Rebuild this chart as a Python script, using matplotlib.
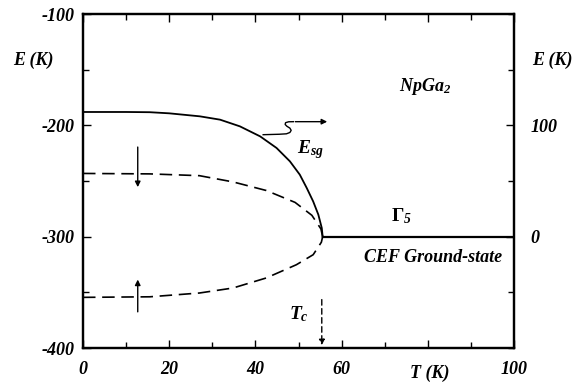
import matplotlib
matplotlib.use("Agg")
import matplotlib.pyplot as plt
from matplotlib.ticker import MultipleLocator

# values (E relative to the CEF ground state, right axis)
t_esg = [0, 10, 15.5, 20, 27.1, 31.8, 36.4, 41.1, 44.9, 48.0, 50.3, 51.9, 53.4, 54.6, 55.4, 55.6]
e_esg = [112, 112, 111.8, 110.8, 108.1, 105.1, 99.1, 90.1, 79.7, 67.7, 55.7, 43.8, 31.7, 19.8, 7.8, 0]

t_upper = [0, 15.5, 27, 34.8, 42.5, 49.2, 53.1, 55.2, 55.6]
e_upper = [56.8, 56.4, 54.8, 49.2, 41.5, 30.8, 19.2, 7, 0]
t_lower = [0, 15.5, 27, 34.8, 42.5, 49.5, 53.4, 55.3, 55.6]
e_lower = [-54.5, -54, -50.6, -46.1, -37.1, -25.2, -16.2, -5, 0]

t_ground = [55.6, 100]
e_ground = [0, 0]

x_ticks = [0, 20, 40, 60, 80, 100]
x_labels = ["0", "20", "40", "60", "", "100"]
left_ticks = [-400, -300, -200, -100]
right_ticks = [0, 100]

plt.rcParams["font.family"] = ["Liberation Serif", "DejaVu Serif"]
plt.rcParams["mathtext.fontset"] = "custom"
plt.rcParams["mathtext.rm"] = "Liberation Serif:bold:italic"
plt.rcParams["mathtext.it"] = "Liberation Serif:bold:italic"
plt.rcParams["mathtext.bf"] = "Liberation Serif:bold"

fnt = dict(fontsize=13, fontweight="bold", fontstyle="italic")

fig = plt.figure(figsize=(5.78, 3.86), dpi=100)
ax = fig.add_axes([0.1436, 0.0984, 0.7457, 0.8653])
ax2 = ax.twinx()

ax.set_xlim(0, 100)
ax.set_ylim(-400, -100)
ax2.set_ylim(-100, 200)

# curves drawn on the right (relative) axis
ax2.plot(t_esg, e_esg, color="black", lw=1.3, solid_joinstyle="round")
ax2.plot(t_ground, e_ground, color="black", lw=1.6)
ax2.plot(t_upper, e_upper, color="black", lw=1.2, dashes=(7.5, 4))
ax2.plot(t_lower, e_lower, color="black", lw=1.2, dashes=(7.5, 4))

arr = dict(arrowstyle="-|>", color="black", lw=1.0, mutation_scale=8)
ax2.annotate("", xy=(12.7, 42), xytext=(12.7, 83), arrowprops=arr)
ax2.annotate("", xy=(12.7, -36), xytext=(12.7, -70), arrowprops=arr)
ax2.annotate("", xy=(55.4, -100), xytext=(55.4, -54),
             arrowprops=dict(arrowstyle="-|>", color="black", lw=1.0,
                             mutation_scale=8, linestyle=(0, (4, 2.5))))

# squiggle arrow pointing to the right axis
sq_t = [41.8, 45.5, 47.2, 48.0, 48.3, 48.0, 47.3, 46.9, 47.0, 47.7, 48.8]
sq_e = [91.6, 92.0, 92.4, 93.6, 95.5, 97.5, 99.2, 100.8, 102.4, 103.2, 103.3]
ax2.plot(sq_t, sq_e, color="black", lw=1.0, solid_joinstyle="round")
ax2.annotate("", xy=(57.3, 103.3), xytext=(48.6, 103.3), arrowprops=arr)

ax.set_xticks(x_ticks)
ax.set_xticklabels(x_labels)
ax.set_yticks(left_ticks)
ax.set_yticklabels([str(v) for v in left_ticks])
ax2.set_yticks(right_ticks)
ax2.set_yticklabels([str(v) for v in right_ticks])
ax.xaxis.set_minor_locator(MultipleLocator(10))
ax.yaxis.set_minor_locator(MultipleLocator(50))
ax2.yaxis.set_minor_locator(MultipleLocator(50))

ax.tick_params(which="both", direction="in", top=True, right=False, width=1.0)
ax.tick_params(which="major", length=6)
ax.tick_params(which="minor", length=4)
ax.tick_params(axis="x", pad=9)
ax.tick_params(axis="y", pad=6)
ax2.tick_params(which="both", direction="in", width=1.0)
ax2.tick_params(which="major", length=6, pad=12)
ax2.tick_params(which="minor", length=4)

for a in (ax, ax2):
    for lab in a.get_xticklabels() + a.get_yticklabels():
        lab.set_fontsize(13)
        lab.set_fontweight("bold")
        lab.set_fontstyle("italic")
    for s in a.spines.values():
        s.set_linewidth(1.6)

ax.text(-0.116, 0.862, "E (K)", transform=ax.transAxes, ha="center", va="center", **fnt)
ax.text(1.088, 0.862, "E (K)", transform=ax.transAxes, ha="center", va="center", **fnt)
ax.text(0.805, -0.075, "T (K)", transform=ax.transAxes, ha="center", va="center", **fnt)

ax.text(79.4, -164.7, r"$NpGa_{2}$", ha="center", va="center", fontsize=13)
ax.text(52.8, -222, r"$E_{sg}$", ha="center", va="center", fontsize=14)
ax.text(74, -282, r"$\mathbf{\Gamma}_{5}$", ha="center", va="center", fontsize=14)
ax.text(81.2, -319, "CEF Ground-state", ha="center", va="center", **fnt)
ax.text(50, -370, r"$T_{c}$", ha="center", va="center", fontsize=14)

fig.savefig("out.png", dpi=100)
